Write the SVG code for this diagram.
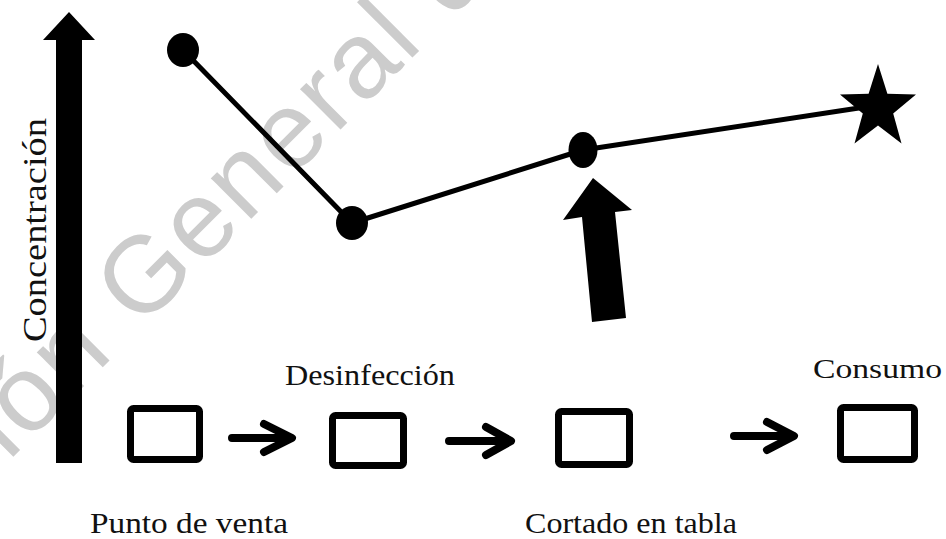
<svg xmlns="http://www.w3.org/2000/svg" width="946" height="539" viewBox="0 0 946 539">
<style>
.lbl{font-family:"Liberation Serif","DejaVu Serif",serif;fill:#111;}
.box{fill:none;stroke:#000;stroke-width:7;}
.link{fill:none;stroke:#000;stroke-width:5;stroke-linejoin:round;}
.sarrow{fill:none;stroke:#000;stroke-width:8;stroke-linecap:round;stroke-linejoin:round;}
.wm{font-family:"Liberation Sans",Arial,sans-serif;fill:#cccccc;}
</style>
<rect width="946" height="539" fill="#ffffff"/>
<g id="watermark">
<text class="wm" font-size="108" letter-spacing="3" transform="translate(-32,502) rotate(-45)">ción General d</text>
</g>
<g id="axis">
<polygon points="69,12 95,40 82,40 82,463 56,463 56,40 43,40" fill="#000"/>
<text class="lbl" font-size="34" transform="translate(46,342) rotate(-90)" textLength="224" lengthAdjust="spacingAndGlyphs">Concentración</text>
</g>
<g id="connectors">
<polyline class="link" points="183,50 352,223 583,150 872,106"/>
<path class="sarrow" d="M232,438 H291 M264,424 L292,438 L264,452"/>
<path class="sarrow" d="M449,441 H510 M486,427 L511,441 L486,455"/>
<path class="sarrow" d="M734,436 H793 M767,422 L794,436 L767,450"/>
<polygon points="593,178 632,210 615,212 626,318 592,322 582,217 563,220" fill="#000"/>
</g>
<g id="point-1"><ellipse cx="183" cy="50" rx="16" ry="17" fill="#000"/></g>
<g id="point-2"><ellipse cx="352" cy="223" rx="16" ry="17" fill="#000"/></g>
<g id="point-3"><ellipse cx="583" cy="150" rx="14.5" ry="18" fill="#000"/></g>
<g id="star"><polygon points="878,64 887.4,93.8 916,94.4 893.2,113.4 901.5,143.6 878,125.6 854.5,143.6 862.8,113.4 840,94.4 868.6,93.8" fill="#000"/></g>
<g id="punto-de-venta">
<rect class="box" x="130.5" y="408.5" width="69" height="51" rx="3"/>
<text class="lbl" x="90" y="533" font-size="30" textLength="198" lengthAdjust="spacingAndGlyphs">Punto de venta</text>
</g>
<g id="desinfeccion">
<rect class="box" x="332.5" y="415.5" width="71" height="50" rx="3"/>
<text class="lbl" x="285" y="385" font-size="29" textLength="170" lengthAdjust="spacingAndGlyphs">Desinfección</text>
</g>
<g id="cortado-en-tabla">
<rect class="box" x="558.5" y="411.5" width="71" height="53" rx="3"/>
<text class="lbl" x="525" y="533" font-size="30" textLength="212" lengthAdjust="spacingAndGlyphs">Cortado en tabla</text>
</g>
<g id="consumo">
<rect class="box" x="840.5" y="407.5" width="74" height="52" rx="3"/>
<text class="lbl" x="813" y="378" font-size="27" textLength="129" lengthAdjust="spacingAndGlyphs">Consumo</text>
</g>
</svg>
